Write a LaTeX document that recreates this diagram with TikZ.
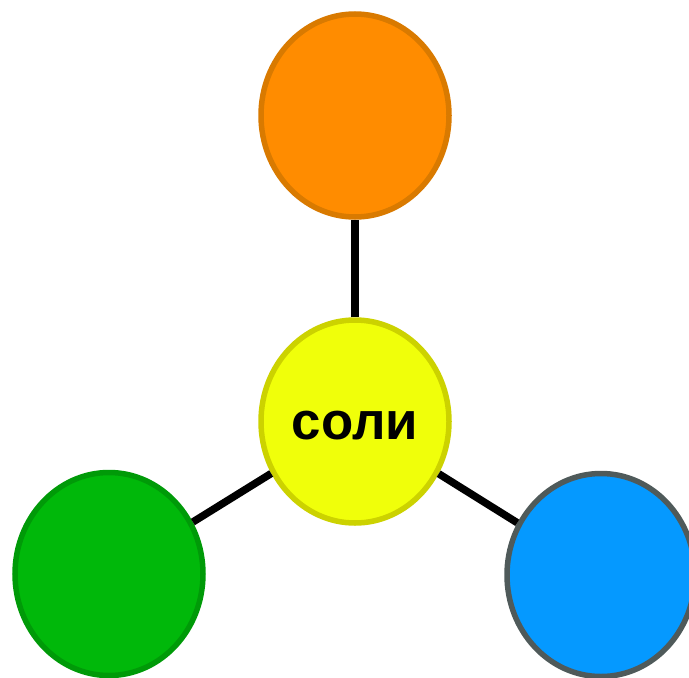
\documentclass[tikz,border=0pt]{standalone}
\usepackage{fontspec}
\setmainfont{Liberation Sans}
\usetikzlibrary{shapes.geometric}
\definecolor{orangefill}{HTML}{FF8C00}
\definecolor{orangeline}{HTML}{D97A00}
\definecolor{yellowfill}{HTML}{F0FF0A}
\definecolor{yellowline}{HTML}{CCD200}
\definecolor{greenfill}{HTML}{00B80A}
\definecolor{greenline}{HTML}{009A08}
\definecolor{bluefill}{HTML}{0599FF}
\definecolor{blueline}{HTML}{4F5A5A}
\begin{document}
\begin{tikzpicture}[x=1bp,y=-1bp]
\tikzset{blob/.style={ellipse,line width=5.5bp,minimum width=188bp,minimum height=203bp,inner sep=0pt}}
\useasboundingbox (0,0) rectangle (689,678);
\node [blob,draw=orangeline,fill=orangefill] (ox) at (355,115.5) {};
\node [blob,draw=yellowline,fill=yellowfill] (sol) at (355,421.5) {};
\node (soltext) at (355,426) {\fontsize{53}{60}\selectfont\bfseries соли};
\node [blob,draw=greenline,fill=greenfill] (ac) at (109,574) {};
\node [blob,draw=blueline,fill=bluefill] (bas) at (601,575) {};
\draw [line width=7.5bp] (sol) -- (ox);
\draw [line width=7.5bp] (sol) -- (ac);
\draw [line width=7.5bp] (sol) -- (bas);
\end{tikzpicture}
\end{document}
